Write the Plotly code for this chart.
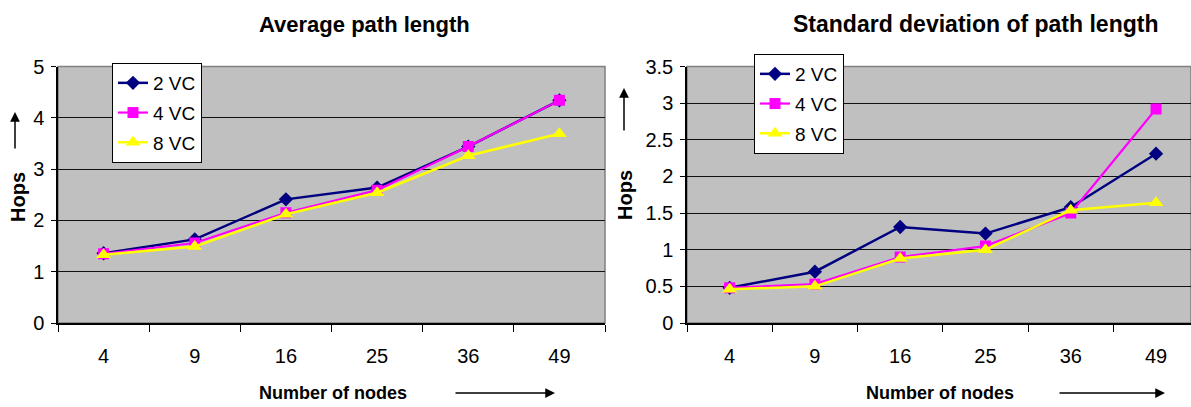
import plotly.graph_objects as go

nodes = ["4", "9", "16", "25", "36", "49"]

avg_2vc = [1.36, 1.63, 2.41, 2.64, 3.44, 4.34]
avg_4vc = [1.35, 1.56, 2.15, 2.59, 3.44, 4.34]
avg_8vc = [1.33, 1.49, 2.12, 2.54, 3.26, 3.69]

std_2vc = [0.48, 0.70, 1.31, 1.22, 1.58, 2.31]
std_4vc = [0.48, 0.53, 0.90, 1.05, 1.50, 2.92]
std_8vc = [0.46, 0.50, 0.88, 1.00, 1.54, 1.64]

series_names = ["2 VC", "4 VC", "8 VC"]
colors = ["#000080", "#FF00FF", "#FFFF00"]
symbols = ["diamond", "square", "triangle-up"]
msizes = [11, 11, 13]
lwidths = [2.5, 2.2, 2.5]

W, H = 1191, 407
FONT = "Liberation Sans, Arial, sans-serif"

def px(x):
    return x / W

def py(y):
    return 1 - y / H

fig = go.Figure()

left = [avg_2vc, avg_4vc, avg_8vc]
right = [std_2vc, std_4vc, std_8vc]
for i in range(3):
    fig.add_trace(go.Scatter(
        x=nodes, y=left[i], name=series_names[i], mode="lines+markers",
        line=dict(color=colors[i], width=lwidths[i]),
        marker=dict(symbol=symbols[i], size=msizes[i], color=colors[i]),
        xaxis="x", yaxis="y", legend="legend", legendgroup="l%d" % i))
for i in range(3):
    fig.add_trace(go.Scatter(
        x=nodes, y=right[i], name=series_names[i], mode="lines+markers",
        line=dict(color=colors[i], width=lwidths[i]),
        marker=dict(symbol=symbols[i], size=msizes[i], color=colors[i]),
        xaxis="x2", yaxis="y2", legend="legend2", legendgroup="r%d" % i))

ydom = [py(323), py(66.5)]
tickfont = dict(family=FONT, size=20, color="#000")

common_x = dict(type="category", showline=True, linecolor="#000", linewidth=1.5,
                ticks="outside", tickson="boundaries", ticklen=7, tickcolor="#000",
                tickwidth=1, tickfont=tickfont, showgrid=False, zeroline=False,
                ticklabelstandoff=14, fixedrange=True, automargin=False)
common_y = dict(showline=True, linecolor="#000", linewidth=1.5, ticks="outside",
                ticklen=5, tickcolor="#000", tickfont=tickfont, showgrid=True,
                gridcolor="#111", gridwidth=1.2, zeroline=False, domain=ydom,
                ticklabelstandoff=3, fixedrange=True, automargin=False)

legfont = dict(family=FONT, size=19, color="#000")
fig.update_layout(
    width=W, height=H, margin=dict(l=0, r=0, t=0, b=0, autoexpand=False),
    paper_bgcolor="white", plot_bgcolor="#C0C0C0",
    xaxis=dict(domain=[px(58), px(605)], range=[-0.5, 5.5], anchor="y", **common_x),
    yaxis=dict(range=[0, 5], dtick=1, anchor="x", **common_y),
    xaxis2=dict(domain=[px(687), 1.0], range=[-0.5, 5.41], anchor="y2", **common_x),
    yaxis2=dict(range=[0, 3.5], dtick=0.5, anchor="x2", **common_y),
    legend=dict(x=px(112), y=py(63), xanchor="left", yanchor="top",
                bgcolor="white", bordercolor="#000", borderwidth=1,
                font=legfont, tracegroupgap=2, itemwidth=30),
    legend2=dict(x=px(754), y=py(54), xanchor="left", yanchor="top",
                 bgcolor="white", bordercolor="#000", borderwidth=1,
                 font=legfont, tracegroupgap=2, itemwidth=30),
    showlegend=True,
)

# plot-area borders
for x0, x1 in [(58, 605), (687, 1191)]:
    fig.add_shape(type="rect", xref="paper", yref="paper",
                  x0=px(x0), x1=px(x1), y0=ydom[0], y1=ydom[1],
                  line=dict(color="#808080", width=1.5), layer="below")

ann = []
ann.append(dict(text="<b>Average path length</b>", x=px(364), y=py(24),
                font=dict(family=FONT, size=22, color="#000")))
ann.append(dict(text="<b>Standard deviation of path length</b>", x=px(975), y=py(24),
                font=dict(family=FONT, size=23, color="#000")))
ann.append(dict(text="<b>Hops</b>", x=px(18), y=py(197), textangle=-90,
                font=dict(family=FONT, size=20, color="#000")))
ann.append(dict(text="<b>Hops</b>", x=px(625), y=py(195), textangle=-90,
                font=dict(family=FONT, size=20, color="#000")))
ann.append(dict(text="<b>Number of nodes</b>", x=px(333), y=py(393),
                font=dict(family=FONT, size=18, color="#000")))
ann.append(dict(text="<b>Number of nodes</b>", x=px(940), y=py(393),
                font=dict(family=FONT, size=18, color="#000")))
for a in ann:
    a.update(xref="paper", yref="paper", showarrow=False,
             xanchor="center", yanchor="middle")
    fig.add_annotation(**a)

arrows = [((15, 112), (0, 38)), ((624, 88), (0, 44)),
          ((555, 393), (-101, 0)), ((1165, 393), (-107, 0))]
for (hx, hy), (dx, dy) in arrows:
    fig.add_annotation(x=px(hx), y=py(hy), xref="paper", yref="paper",
                       ax=dx, ay=dy, text="", showarrow=True,
                       arrowhead=2, arrowsize=1.3, arrowwidth=1.5,
                       arrowcolor="#000")

fig.write_html("out.html")
